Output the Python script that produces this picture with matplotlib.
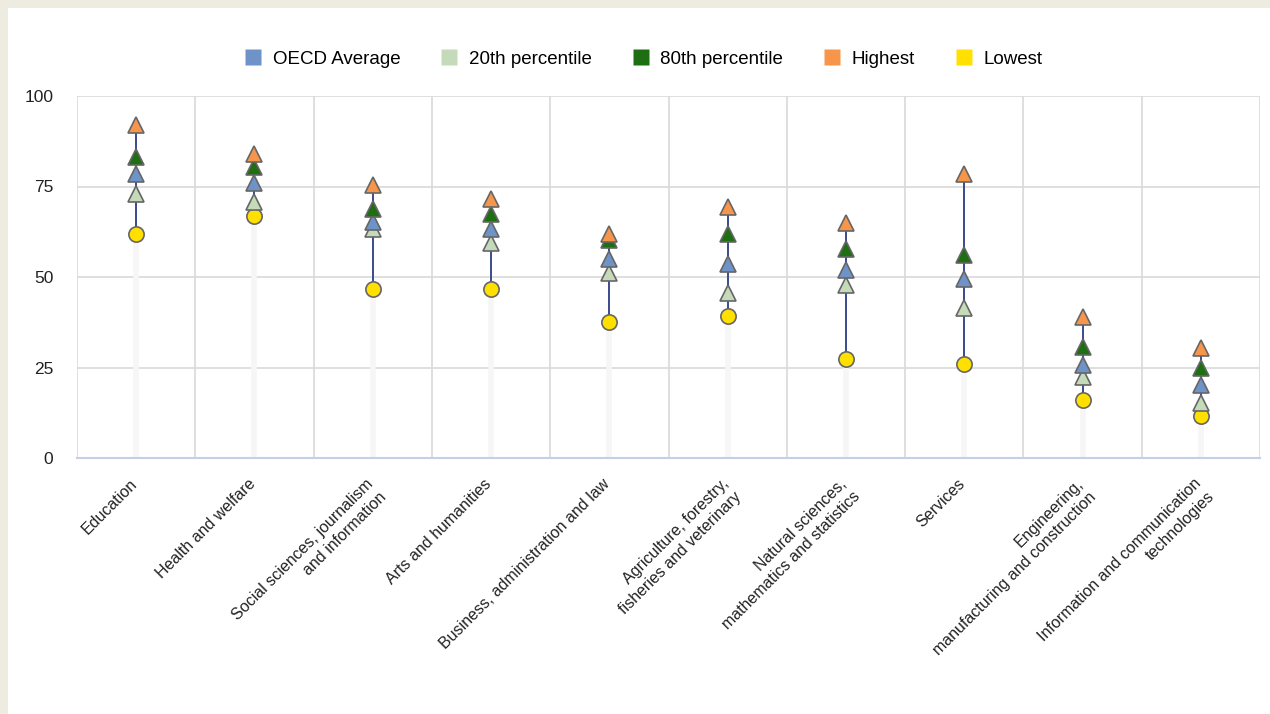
import numpy as np
import matplotlib
matplotlib.use("Agg")
import matplotlib.pyplot as plt
from matplotlib.lines import Line2D
from matplotlib.transforms import ScaledTranslation

plt.rcParams['font.family'] = ['Liberation Sans', 'DejaVu Sans']

# Data
categories = [
    "Education",
    "Health and welfare",
    "Social sciences, journalism\nand information",
    "Arts and humanities",
    "Business, administration and law",
    "Agriculture, forestry,\nfisheries and veterinary",
    "Natural sciences,\nmathematics and statistics",
    "Services",
    "Engineering,\nmanufacturing and construction",
    "Information and communication\ntechnologies",
]
oecd_avg = [78.5, 76.0, 65.2, 63.3, 55.0, 53.6, 51.9, 49.4, 25.7, 20.2]
pct20 = [73.0, 70.7, 63.3, 59.4, 51.1, 45.6, 47.8, 41.4, 22.4, 15.2]
pct80 = [83.2, 80.4, 68.8, 67.4, 60.2, 61.9, 57.7, 56.0, 30.7, 24.9]
highest = [92.0, 84.0, 75.4, 71.5, 61.9, 69.3, 64.9, 78.5, 39.0, 30.4]
lowest = [62.0, 66.9, 46.7, 46.7, 37.6, 39.2, 27.3, 26.0, 16.0, 11.6]
yticks = [0, 25, 50, 75, 100]

c_avg = "#6E93C8"
c_20 = "#C5DAB8"
c_80 = "#1E6E12"
c_high = "#F7964B"
c_low = "#FFE000"
edge = "#666666"

fig = plt.figure(figsize=(12.7, 7.14), dpi=100)
fig.patch.set_facecolor("#EEEBE0")
# white panel inset from the beige frame
fig.add_artist(plt.Rectangle((8 / 1270, 0), 1, 1 - 8 / 714, transform=fig.transFigure,
                             facecolor="white", edgecolor="none", zorder=0))

ax = fig.add_axes([77 / 1270, (714 - 458) / 714, (1260 - 77) / 1270, 362 / 714])
ax.set_facecolor("white")
x = np.arange(len(categories))

# faint stems from 0 to lowest, then the range line
ax.vlines(x, 0, lowest, color="#F6F6F6", lw=4, zorder=1)
ax.vlines(x, lowest, highest, color="#3A4A8E", lw=1.4, zorder=2)

mk = dict(ls="none", mec=edge, mew=1.2, zorder=3)
ax.plot(x, lowest, marker="o", ms=11, mfc=c_low, **mk)
ax.plot(x, pct20, marker="^", ms=11, mfc=c_20, **mk)
ax.plot(x, oecd_avg, marker="^", ms=11, mfc=c_avg, **mk)
ax.plot(x, pct80, marker="^", ms=11, mfc=c_80, **mk)
ax.plot(x, highest, marker="^", ms=11, mfc=c_high, **mk)

ax.set_xlim(-0.5, len(categories) - 0.5)
ax.set_ylim(0, 100)
ax.set_yticks(yticks)
ax.set_yticklabels([str(v) for v in yticks], fontsize=12.5, color="#222222")

# category boundaries as vertical grid lines
ax.set_xticks(np.arange(-0.5, len(categories), 1.0), minor=True)
ax.grid(True, which="minor", axis="x", color="#D9D9D9", lw=1.2)
ax.grid(True, which="major", axis="y", color="#D9D9D9", lw=1.2)
ax.set_axisbelow(True)
ax.set_xticks(x)
ax.set_xticklabels([])
ax.tick_params(axis="both", which="both", length=0)
ax.tick_params(axis="y", pad=17)

# rotated category labels, slightly shifted so their ends sit under the stems
off = ax.get_xaxis_transform() + ScaledTranslation(-7 / 100, -18 / 100, fig.dpi_scale_trans)
for xi, lab in zip(x, categories):
    ax.text(xi, 0, lab, transform=off, rotation=45, ha="right", va="top",
            rotation_mode="anchor", fontsize=11.5, color="#222222",
            multialignment="right", linespacing=1.3)

for s in ["left", "right", "top"]:
    ax.spines[s].set_visible(False)
ax.spines["bottom"].set_color("#C5D0E6")
ax.spines["bottom"].set_linewidth(1.5)

handles = [Line2D([], [], marker="s", ls="none", ms=11, mfc=c, mec="none")
           for c in [c_avg, c_20, c_80, c_high, c_low]]
labels = ["OECD Average", "20th percentile", "80th percentile", "Highest", "Lowest"]
fig.legend(handles, labels, loc="center", bbox_to_anchor=(643 / 1270, 1 - 59 / 714),
           ncol=5, frameon=False, fontsize=13.5, handletextpad=0.55,
           columnspacing=2.1, handlelength=1.0)

fig.savefig("out.png", dpi=100, facecolor=fig.get_facecolor())
